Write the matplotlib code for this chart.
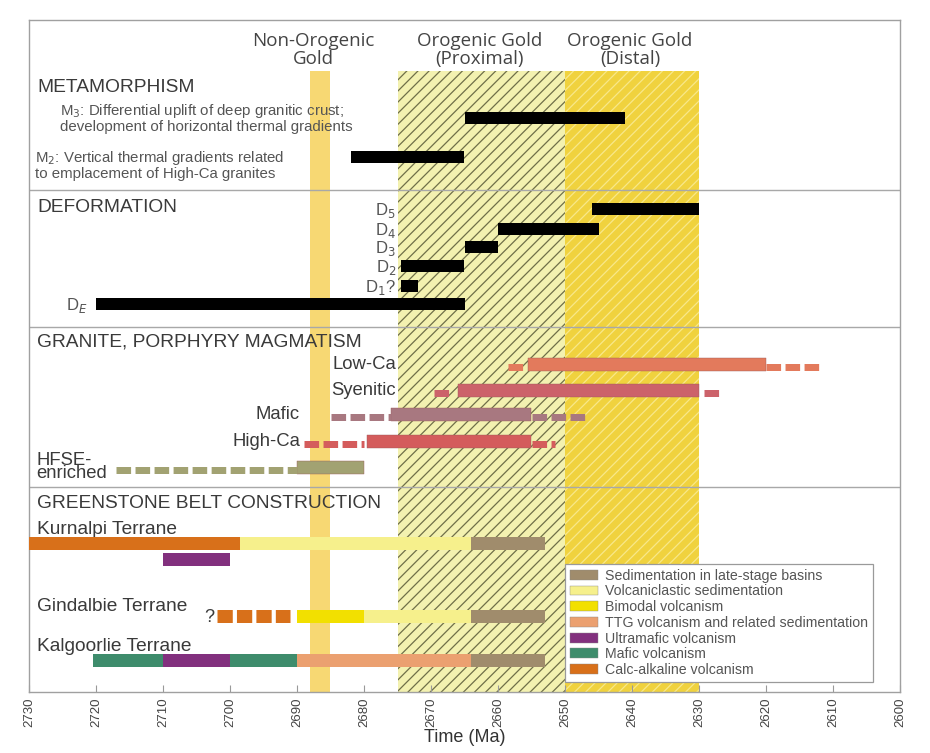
import matplotlib
matplotlib.use("Agg")
import matplotlib.pyplot as plt
from matplotlib.patches import Patch

plt.rcParams['font.family'] = ['Liberation Sans', 'DejaVu Sans']
plt.rcParams['lines.scale_dashes'] = False
plt.rcParams['hatch.linewidth'] = 0.9

# ---------------- data (Ma) ----------------
x_ticks = [2730, 2720, 2710, 2700, 2690, 2680, 2670, 2660, 2650, 2640, 2630, 2620, 2610, 2600]

gold_nonorogenic = (2688, 2685)
gold_proximal = (2675, 2650)
gold_distal = (2650, 2630)

meta_labels = ["M$_3$: Differential uplift of deep granitic crust;\ndevelopment of horizontal thermal gradients",
               "M$_2$: Vertical thermal gradients related\nto emplacement of High-Ca granites"]
meta_start = [2665, 2682]
meta_end = [2641, 2665]

deform_labels = ["D$_5$", "D$_4$", "D$_3$", "D$_2$", "D$_1$?", "D$_E$"]
deform_start = [2646, 2660, 2665, 2674.5, 2674.5, 2720]
deform_end = [2630, 2645, 2660, 2665, 2672, 2665]

granite_labels = ["Low-Ca", "Syenitic", "Mafic", "High-Ca", "HFSE-\nenriched"]
granite_solid = [(2655.5, 2620), (2666, 2630), (2676, 2655), (2679.5, 2655), (2690, 2680)]
granite_dash_before = [(2658.5, 2656), (2669.5, 2666.7), (2685, 2676), (2689, 2680), (2717, 2690)]
granite_dash_after = [(2620, 2611.5), (2629.3, 2627), (2655, 2646.5), (2655, 2651.5), None]
granite_colors = ["#e37a5c", "#cc626a", "#a87880", "#d45c5c", "#a2a272"]

legend_labels = ["Sedimentation in late-stage basins", "Volcaniclastic sedimentation",
                 "Bimodal volcanism", "TTG volcanism and related sedimentation",
                 "Ultramafic volcanism", "Mafic volcanism", "Calc-alkaline volcanism"]
legend_colors = ["#a08c6c", "#f6f08c", "#f2e000", "#eba070", "#82307e", "#3e8c6c", "#d8701a"]
col = dict(zip(["sed", "vcs", "bim", "ttg", "um", "maf", "calc"], legend_colors))

kurnalpi = [("calc", 2730, 2698.5), ("vcs", 2698.5, 2664), ("sed", 2664, 2653)]
kurnalpi_lower = [("um", 2710, 2700)]
gindalbie_dashed = [("calc", 2702, 2691)]
gindalbie = [("bim", 2690, 2680), ("vcs", 2680, 2664), ("sed", 2664, 2653)]
kalgoorlie = [("maf", 2720.5, 2710), ("um", 2710, 2700), ("maf", 2700, 2690),
              ("ttg", 2690, 2664), ("sed", 2664, 2653)]

# ---------------- layout (pixel rows from top) ----------------
W, H = 930, 753
ax_left, ax_right, ax_top, ax_bot = 29, 900, 20, 692
band_top = 71
separators = [190, 327, 487]
meta_rows = [118, 157]
meta_text_rows = [118, 165]
deform_rows = [209, 229, 247, 266, 286, 304]
granite_rows = [364, 390, 414, 441, 467]
kur_row, kur_low_row, gin_row, kal_row = 543, 559, 616, 660
TXT = "#3a3a3a"

fig = plt.figure(figsize=(W / 100, H / 100), dpi=100)
ax = fig.add_axes([ax_left / W, (H - ax_bot) / H, (ax_right - ax_left) / W, (ax_bot - ax_top) / H])
ax.set_xlim(x_ticks[0], x_ticks[-1])
ax.set_ylim(ax_bot, ax_top)
ppm = (ax_right - ax_left) / (x_ticks[0] - x_ticks[-1])  # px per Ma


def X(px):
    return x_ticks[0] - (px - ax_left) / ppm


def ptl(px):
    return px * 0.72


band_frac = (ax_bot - band_top) / (ax_bot - ax_top)
ax.axvspan(*gold_nonorogenic, ymin=0, ymax=band_frac, facecolor="#f7d873", edgecolor="none", zorder=0)
ax.axvspan(*gold_proximal, ymin=0, ymax=band_frac, facecolor="#f3f1b0", edgecolor="#6f6f48",
           linewidth=0, hatch="///", zorder=0)
ax.axvspan(*gold_distal, ymin=0, ymax=band_frac, facecolor="#f0d23e", edgecolor="#f8e88a",
           linewidth=0, hatch="///", zorder=0)

# gold labels
gfont = dict(family=["Open Sans", "DejaVu Sans"], fontsize=13.5, color="#444444", ha="center", va="center")
ax.text(X(313), 50, "Non-Orogenic\nGold", linespacing=1.05, **gfont)
ax.text(X(480), 50, "Orogenic Gold\n(Proximal)", linespacing=1.05, **gfont)
ax.text(X(630), 50, "Orogenic Gold\n(Distal)", linespacing=1.05, **gfont)

for s in separators:
    ax.axhline(s, color="#a8a8a8", lw=1.0, zorder=2)

head = dict(fontsize=13.8, color=TXT, ha="left", va="center")
ax.text(X(37), 87, "METAMORPHISM", **head)
ax.text(X(37), 207, "DEFORMATION", **head)
ax.text(X(37), 342, "GRANITE, PORPHYRY MAGMATISM", **head)
ax.text(X(37), 503, "GREENSTONE BELT CONSTRUCTION", **head)

# metamorphism
ax.text(X(60), meta_text_rows[0], meta_labels[0], fontsize=10.8, color="#555555", ha="left", va="center",
        linespacing=1.0)
ax.text(X(35), meta_text_rows[1], meta_labels[1], fontsize=10.8, color="#555555", ha="left", va="center",
        linespacing=1.0)
for y, s, e in zip(meta_rows, meta_start, meta_end):
    ax.barh(y, e - s, left=s, height=12, color="black", zorder=3)

# deformation
for i, (y, s, e, lab) in enumerate(zip(deform_rows, deform_start, deform_end, deform_labels)):
    ax.barh(y, e - s, left=s, height=12, color="black", zorder=3)
    lx = X(396) if i < 5 else X(88)
    ax.text(lx, y + 1, lab, fontsize=12, color="#555555", ha="right", va="center")

# granite
for i, (y, sol, db, da, c, lab) in enumerate(zip(granite_rows, granite_solid, granite_dash_before,
                                                   granite_dash_after, granite_colors, granite_labels)):
    ax.barh(y, sol[1] - sol[0], left=sol[0], height=13, color=c, edgecolor="#9a5a5a", lw=0.3, zorder=3)
    for seg in (db, da):
        if seg is None:
            continue
        lc = ax.hlines(y + 3, seg[0], seg[1], colors=c, lw=ptl(7),
                       linestyles=[(0, (10.5, 3.2))], zorder=3)
        lc.set_capstyle("butt")
    if i < 2:
        ax.text(X(396), y, lab, fontsize=13.3, color=TXT, ha="right", va="center")
    elif i < 4:
        ax.text(X(300), y, lab, fontsize=13.3, color=TXT, ha="right", va="center")
    else:
        ax.text(X(36), y, lab, fontsize=13.3, color=TXT, ha="left", va="center", linespacing=0.75)

# greenstone
term = dict(fontsize=13.8, color=TXT, ha="left", va="center")
ax.text(X(37), 529, "Kurnalpi Terrane", **term)
ax.text(X(37), 606, "Gindalbie Terrane", **term)
ax.text(X(37), 646, "Kalgoorlie Terrane", **term)

for row, segs in ((kur_row, kurnalpi), (kur_low_row, kurnalpi_lower), (gin_row, gindalbie), (kal_row, kalgoorlie)):
    for k, s, e in segs:
        ax.barh(row, e - s, left=s, height=13, color=col[k], edgecolor="none", zorder=3)
for k, s, e in gindalbie_dashed:
    lc = ax.hlines(gin_row, s, e, colors=col[k], lw=ptl(13), linestyles=[(0, (11, 3))], zorder=3)
    lc.set_capstyle("butt")
    ax.text(s + 0.3, gin_row + 1, "?", fontsize=13, color=TXT, ha="right", va="center")

handles = [Patch(facecolor=c, edgecolor="#888888", linewidth=0.3) for c in legend_colors]
leg = ax.legend(handles, legend_labels, loc="lower left", bbox_to_anchor=(0.615, 0.015),
                borderaxespad=0, fontsize=10.2, frameon=True, fancybox=False, framealpha=1,
                edgecolor="#9a9a9a", handlelength=2.0, handleheight=0.7, labelspacing=0.12,
                handletextpad=0.5, borderpad=0.35, labelcolor="#555555")
leg.get_frame().set_linewidth(0.9)
leg.set_zorder(5)

# axes styling
ax.set_yticks([])
ax.set_xticks(x_ticks)
ax.set_xticklabels([str(t) for t in x_ticks], rotation=90, fontsize=9.5, color="#444444")
ax.tick_params(axis="x", direction="in", length=5, color="#999999", pad=4)
for sp in ax.spines.values():
    sp.set_color("#a0a0a0")
    sp.set_linewidth(1.0)
ax.set_xlabel("Time (Ma)", fontsize=13, color="#333333", labelpad=1)

fig.savefig("out.png", dpi=100)
